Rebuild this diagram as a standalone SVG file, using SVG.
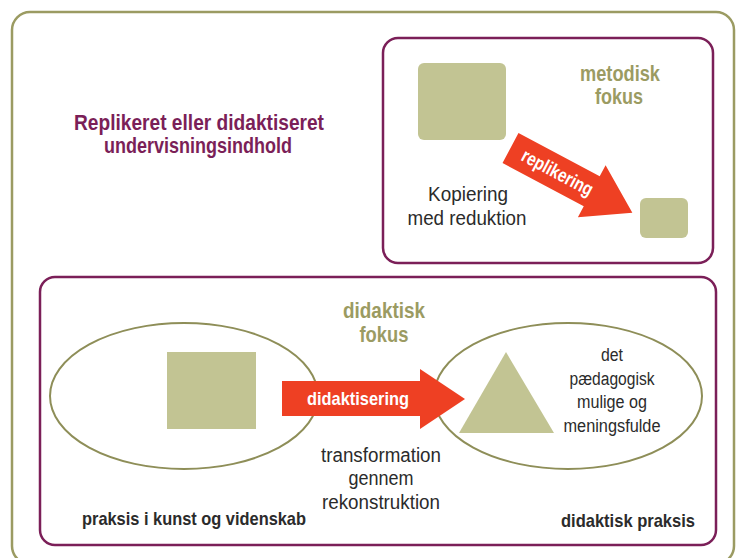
<svg xmlns="http://www.w3.org/2000/svg" width="736" height="558" viewBox="0 0 736 558">
<style>
.t{font-family:"Liberation Sans Narrow","Liberation Sans","DejaVu Sans Condensed",sans-serif;text-anchor:middle}
.b{font-weight:bold}
.olive{fill:#9b9b62}
.purple{fill:#7b1f58}
.dark{fill:#2b2b2b}
.white{fill:#ffffff}
.shape{fill:#c2c493}
.red{fill:#ee4023}
.pbox{fill:none;stroke:#7b1f58;stroke-width:2.5}
.obox{fill:none;stroke:#9b9b62;stroke-width:2.5}
.ell{fill:none;stroke:#8e8e58;stroke-width:2}
</style>
<rect width="736" height="558" fill="#ffffff"/>
<g id="outer">
<rect class="obox" x="12" y="12" width="722" height="552" rx="18"/>
<text class="t b purple" x="199" y="130" font-size="22" textLength="250" lengthAdjust="spacingAndGlyphs">Replikeret eller didaktiseret</text>
<text class="t b purple" x="198" y="153" font-size="22" textLength="188" lengthAdjust="spacingAndGlyphs">undervisningsindhold</text>
</g>
<g id="metodisk">
<rect class="pbox" x="383" y="38" width="330" height="225" rx="15"/>
<text class="t b olive" x="620" y="81" font-size="22" textLength="80" lengthAdjust="spacingAndGlyphs">metodisk</text>
<text class="t b olive" x="619" y="104" font-size="22" textLength="48" lengthAdjust="spacingAndGlyphs">fokus</text>
<text class="t dark" x="468" y="201" font-size="20" textLength="80" lengthAdjust="spacingAndGlyphs">Kopiering</text>
<text class="t dark" x="467" y="225" font-size="20" textLength="119" lengthAdjust="spacingAndGlyphs">med reduktion</text>
</g>
<g id="original-large">
<rect class="shape" x="418" y="63" width="88" height="77" rx="6"/>
</g>
<g id="replica-small">
<rect class="shape" x="640" y="198" width="48" height="40" rx="6"/>
</g>
<g id="didaktisk">
<rect class="pbox" x="40" y="277" width="676" height="268" rx="15"/>
<text class="t b olive" x="384" y="318" font-size="22" textLength="82" lengthAdjust="spacingAndGlyphs">didaktisk</text>
<text class="t b olive" x="384" y="342" font-size="22" textLength="49" lengthAdjust="spacingAndGlyphs">fokus</text>
</g>
<g id="praksis-kunst">
<ellipse class="ell" cx="184" cy="396" rx="134" ry="73"/>
<rect class="shape" x="167" y="352" width="89" height="77"/>
<text class="t b dark" x="194" y="525" font-size="19" textLength="224" lengthAdjust="spacingAndGlyphs">praksis i kunst og videnskab</text>
</g>
<g id="didaktisk-praksis">
<ellipse class="ell" cx="568" cy="396" rx="134" ry="73"/>
<polygon class="shape" points="506,352 459,433 554,433"/>
<text class="t dark" x="612" y="361" font-size="18" textLength="22" lengthAdjust="spacingAndGlyphs">det</text>
<text class="t dark" x="612" y="385" font-size="18" textLength="85" lengthAdjust="spacingAndGlyphs">pædagogisk</text>
<text class="t dark" x="612" y="408" font-size="18" textLength="70" lengthAdjust="spacingAndGlyphs">mulige og</text>
<text class="t dark" x="612" y="432" font-size="18" textLength="97" lengthAdjust="spacingAndGlyphs">meningsfulde</text>
<text class="t b dark" x="628" y="527" font-size="19" textLength="134" lengthAdjust="spacingAndGlyphs">didaktisk praksis</text>
</g>
<g id="connectors">
<g id="replikering" transform="translate(510.5,148) rotate(28)">
<polygon class="red" points="0,-17 92,-17 92,-29.5 138,0 92,29.5 92,17 0,17"/>
<text class="t b white" x="53" y="6" font-size="19" textLength="78" lengthAdjust="spacingAndGlyphs">replikering</text>
</g>
<g id="didaktisering">
<polygon class="red" points="282,381 420,381 420,369 465,399 420,429 420,416 282,416"/>
<text class="t b white" x="358" y="405" font-size="19" textLength="102" lengthAdjust="spacingAndGlyphs">didaktisering</text>
</g>
<text class="t dark" x="381" y="462" font-size="20" textLength="120" lengthAdjust="spacingAndGlyphs">transformation</text>
<text class="t dark" x="381" y="485" font-size="20" textLength="65" lengthAdjust="spacingAndGlyphs">gennem</text>
<text class="t dark" x="381" y="509" font-size="20" textLength="118" lengthAdjust="spacingAndGlyphs">rekonstruktion</text>
</g>
</svg>
